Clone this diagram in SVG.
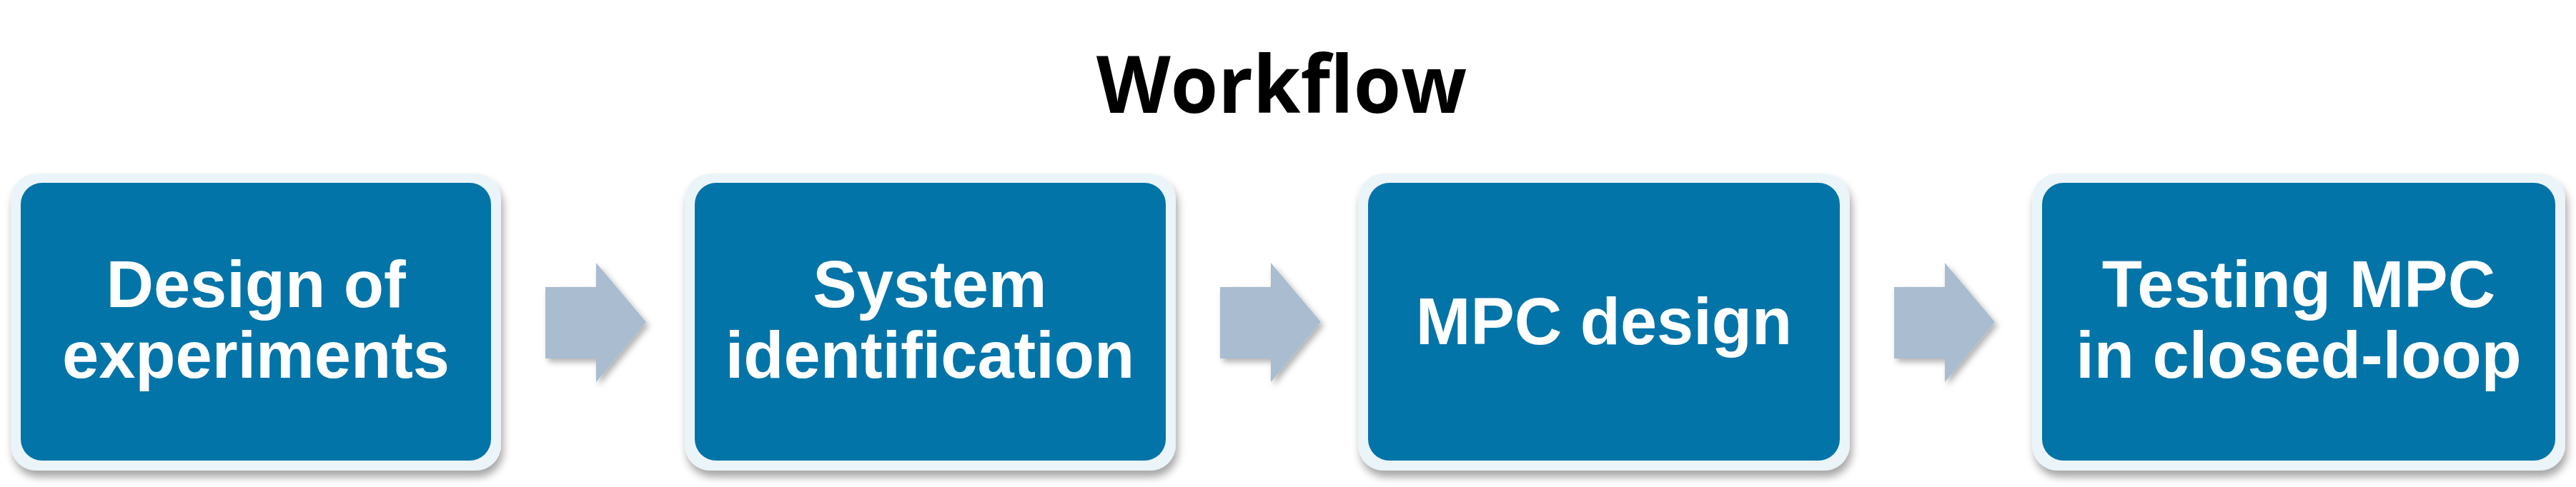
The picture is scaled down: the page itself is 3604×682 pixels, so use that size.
<svg xmlns="http://www.w3.org/2000/svg" width="3604" height="682" viewBox="0 0 3604 682">
<defs>
<style>
.outer{fill:#EBF4F8;filter:url(#sh)}
.inner{fill:#0274A8}
.lbl{font-family:"Liberation Sans",Arial,sans-serif;font-weight:bold;font-size:92px;fill:#FFFFFF;text-anchor:middle}
.title{font-family:"Open Sans",Lato,sans-serif;font-weight:bold;font-size:112px;fill:#000000;text-anchor:middle}
.arrow{fill:#A9BCD0;filter:url(#ash)}
</style>
<filter id="sh" x="-10%" y="-10%" width="120%" height="125%">
<feDropShadow dx="3" dy="9" stdDeviation="6" flood-color="#000000" flood-opacity="0.35"/>
</filter>
<filter id="ash" x="-20%" y="-20%" width="140%" height="140%">
<feDropShadow dx="4" dy="5" stdDeviation="4" flood-color="#000000" flood-opacity="0.3"/>
</filter>
</defs>
<rect width="3604" height="682" fill="#FFFFFF"/>
<text id="title" class="title" x="1793" y="158" textLength="518" lengthAdjust="spacingAndGlyphs">Workflow</text>
<g id="node1">
<rect class="outer" x="15" y="243" width="686" height="416" rx="36"/>
<rect class="inner" x="29" y="256" width="658" height="389" rx="30"/>
<text class="lbl" x="358" y="430">Design of</text>
<text class="lbl" x="358" y="529">experiments</text>
</g>
<g id="node2">
<rect class="outer" x="958" y="243" width="687" height="416" rx="36"/>
<rect class="inner" x="972" y="256" width="659" height="389" rx="30"/>
<text class="lbl" x="1301" y="430">System</text>
<text class="lbl" x="1301" y="529">identification</text>
</g>
<g id="node3">
<rect class="outer" x="1900" y="243" width="688" height="416" rx="36"/>
<rect class="inner" x="1914" y="256" width="660" height="389" rx="30"/>
<text class="lbl" x="2244" y="482">MPC design</text>
</g>
<g id="node4">
<rect class="outer" x="2843" y="243" width="746" height="416" rx="36"/>
<rect class="inner" x="2857" y="256" width="718" height="389" rx="30"/>
<text class="lbl" x="3216" y="430">Testing MPC</text>
<text class="lbl" x="3216" y="529">in closed-loop</text>
</g>
<g id="connectors">
<polygon class="arrow" points="763,402 834,402 834,368 904,451 834,535 834,502 763,502"/>
<polygon class="arrow" points="1707,402 1778,402 1778,368 1848,451 1778,535 1778,502 1707,502"/>
<polygon class="arrow" points="2650,402 2721,402 2721,368 2791,451 2721,535 2721,502 2650,502"/>
</g>
</svg>
